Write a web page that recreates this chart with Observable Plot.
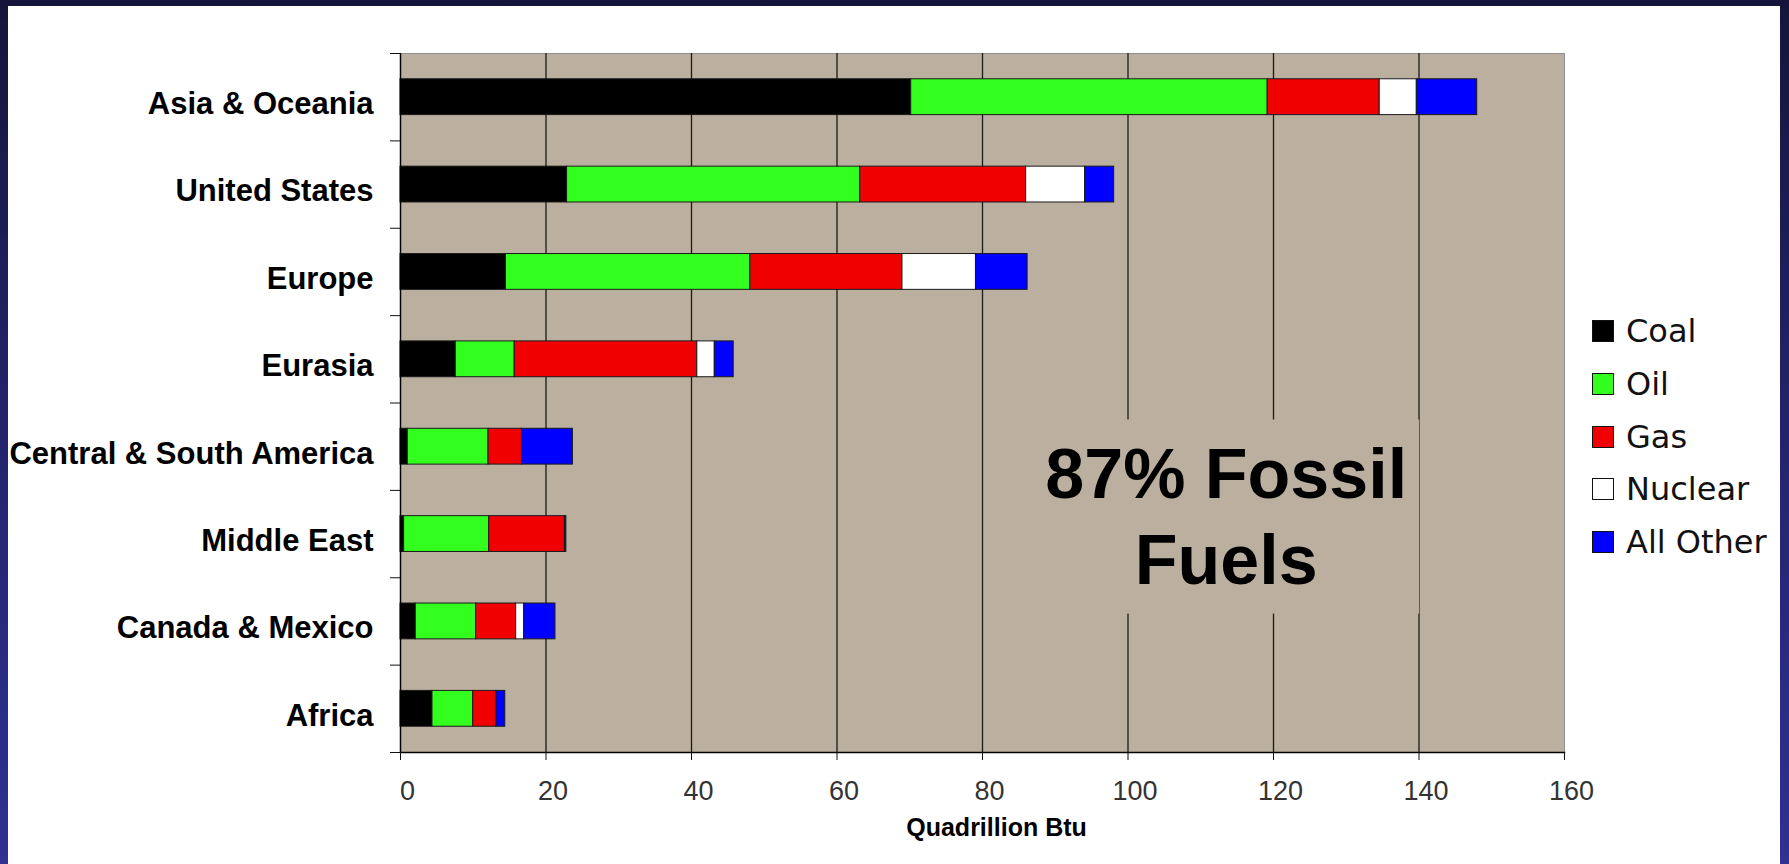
<!DOCTYPE html>
<html>
<head>
<meta charset="utf-8">
<script src="https://cdn.jsdelivr.net/npm/d3@7"></script>
<script src="https://cdn.jsdelivr.net/npm/@observablehq/plot@0.6"></script>
<style>
  html, body { margin: 0; padding: 0; }
  body {
    width: 1789px; height: 864px; overflow: hidden; position: relative;
    background: linear-gradient(to bottom, #15153b 0%, #222268 45%, #2f3193 100%);
  }
  #panel { position: absolute; left: 8px; top: 6px; width: 1772px; height: 858px; background: #fff; }
  #chart { position: absolute; left: 0; top: 0; }
  #chart svg { overflow: visible; max-width: none; }
  #legend {
    position: absolute; left: 1592px; top: 305px;
    font-family: "DejaVu Sans", Verdana, sans-serif; font-size: 32px; color: #111;
  }
  #legend .row { height: 52.75px; line-height: 52.75px; white-space: nowrap; }
  #legend .sw {
    display: inline-block; width: 20px; height: 20px; border: 1px solid #111;
    margin-right: 12px; vertical-align: baseline;
  }
</style>
</head>
<body>
<div id="panel"></div>
<div id="chart"></div>
<div id="legend"></div>
<script>
// Energy consumption by region and source (quadrillion Btu)
const regions = [
  "Asia & Oceania", "United States", "Europe", "Eurasia",
  "Central & South America", "Middle East", "Canada & Mexico", "Africa"
];
const sources = ["Coal", "Oil", "Gas", "Nuclear", "All Other"];
const sourceColors = ["#000000", "#33ff1f", "#f00000", "#ffffff", "#0000ff"];

const coal     = [70.2, 22.9, 14.5,  7.6,  1.0,  0.5, 2.1, 4.4];
const oil      = [49.0, 40.3, 33.6,  8.1, 11.1, 11.7, 8.3, 5.6];
const gas      = [15.4, 22.8, 20.9, 25.1,  4.6, 10.4, 5.5, 3.2];
const nuclear  = [ 5.1,  8.1, 10.1,  2.4,  0.0,  0.0, 1.1, 0.0];
const allOther = [ 8.3,  4.0,  7.1,  2.6,  7.0,  0.2, 4.3, 1.2];

const xTicks = [0, 20, 40, 60, 80, 100, 120, 140, 160];
const xLabel = "Quadrillion Btu";
const noteText = "87% Fossil\nFuels";
const noteAt = 113.5;

// Long-format rows for the stacked bars
const seriesValues = [coal, oil, gas, nuclear, allOther];
const rows = [];
regions.forEach((region, i) => {
  sources.forEach((source, j) => {
    const value = seriesValues[j][i];
    if (value > 0) rows.push({region, source, value});
  });
});

const W = 1789, H = 864, mL = 400, mR = 225, mT = 53, mB = 112;
const step = (H - mT - mB) / regions.length;
const tan = "#bbb09f";

const chart = Plot.plot({
  width: W, height: H,
  marginLeft: mL, marginRight: mR, marginTop: mT, marginBottom: mB,
  style: {
    background: "transparent", color: "#000", overflow: "visible",
    fontFamily: "'Liberation Sans', Arial, sans-serif"
  },
  x: {domain: [0, 160], ticks: xTicks, label: null},
  y: {domain: regions, paddingInner: 0.59, paddingOuter: 0.295, round: false, label: null},
  color: {domain: sources, range: sourceColors},
  marks: [
    Plot.frame({fill: tan, stroke: "#8f8f8f"}),
    Plot.ruleX(xTicks.filter(d => d > 0 && d < 160), {stroke: "#1a1a1a", strokeWidth: 1.3}),
    Plot.text([{note: noteText, at: noteAt}], {
      x: "at", text: "note", frameAnchor: "middle", dy: 110,
      fontSize: 70, fontWeight: "bold", lineHeight: 1.23, fill: "#000"
    }),
    Plot.barX(rows, {
      x: "value", y: "region", fill: "source", z: "source", order: sources,
      stroke: "#1a1a1a", strokeWidth: 1
    }),
    Plot.ruleX([0], {stroke: "#000", strokeWidth: 1.5}),
    Plot.frame({anchor: "bottom", stroke: "#000", strokeWidth: 1.5}),
    // region labels
    Plot.axisY({tickSize: 0, tickPadding: 27, dy: 7, fontSize: 31, fontWeight: "bold", fill: "#000", label: null}),
    // tick marks at band boundaries
    Plot.axisY({tickSize: 10, tickFormat: () => "", dy: -step / 2, stroke: "#111", label: null}),
    Plot.axisY({ticks: [regions[regions.length - 1]], tickSize: 10, tickFormat: () => "", dy: step / 2, stroke: "#111", label: null}),
    // x ticks and labels
    Plot.axisX({ticks: xTicks, tickSize: 8, tickFormat: () => "", stroke: "#111", label: null}),
    Plot.axisX({ticks: xTicks, tickSize: 0, tickPadding: 28, dx: 7, fontSize: 27, fill: "#333", label: null}),
    Plot.text([xLabel], {text: d => d, frameAnchor: "bottom", dy: 83, dx: 14, fontSize: 25, fontWeight: "bold", fill: "#000"})
  ]
});

document.getElementById("chart").appendChild(chart);

// Tan box behind the note so the gridlines break around it
const noteEl = Array.from(chart.querySelectorAll("text"))
  .find(t => t.textContent.includes("Fossil"));
if (noteEl) {
  const b = noteEl.getBBox();
  const padX = 12, padY = 15;
  const box = document.createElementNS("http://www.w3.org/2000/svg", "rect");
  box.setAttribute("x", b.x - padX);
  box.setAttribute("y", b.y - padY);
  box.setAttribute("width", b.width + 2 * padX);
  box.setAttribute("height", b.height + 2 * padY);
  box.setAttribute("fill", tan);
  const t = noteEl.getAttribute("transform");
  if (t) box.setAttribute("transform", t);
  noteEl.parentNode.insertBefore(box, noteEl);
}

// Legend built from the chart's color scale
const color = chart.scale("color");
const legend = d3.select("#legend");
sources.forEach(s => {
  const row = legend.append("div").attr("class", "row");
  row.append("span").attr("class", "sw").style("background", color.apply(s));
  row.append("span").text(s);
});
</script>
</body>
</html>
